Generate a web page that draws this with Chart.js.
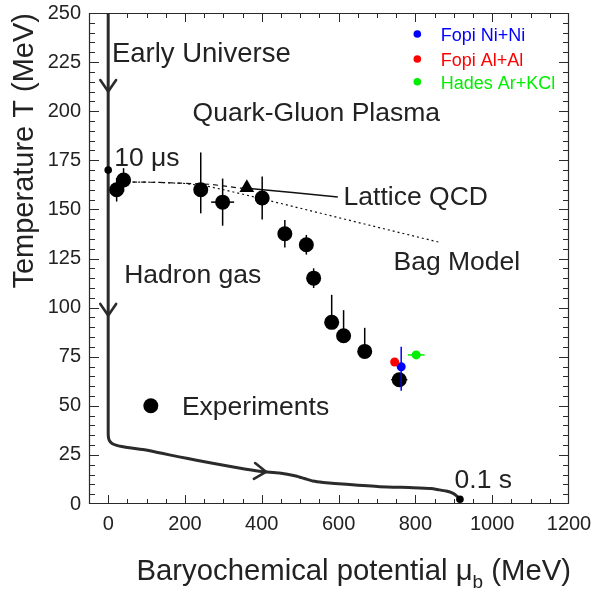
<!DOCTYPE html>
<html>
<head>
<meta charset="utf-8">
<script src="https://cdn.jsdelivr.net/npm/chart.js@4/dist/chart.umd.min.js"></script>
<style>
  html, body { margin: 0; padding: 0; background: #fff; }
  #wrap { width: 593px; height: 591px; }
</style>
</head>
<body>
<div id="wrap"><canvas id="c" width="593" height="591"></canvas></div>
<script>
// Axis tick labels
const xTickValues = [0, 200, 400, 600, 800, 1000, 1200];
const yTickValues = [0, 25, 50, 75, 100, 125, 150, 175, 200, 225, 250];

// Chemical freeze-out points (mu_B, T) with errors in MeV
const expMu    = [22, 40, 241, 298, 401, 460, 516, 535, 582, 613, 668, 758];
const expT     = [160, 165, 160, 153.7, 155.8, 137.6, 132, 115, 92.5, 85.7, 77.7, 63.3];
const expErrLo = [6, 6, 12, 12, 11, 7, 5, 5, 3, 3, 3, 0];
const expErrHi = [6, 6, 19, 12, 11, 7, 5, 5, 14, 13, 12, 0];
const expErrMu = [0, 0, 0, 30, 0, 0, 0, 0, 0, 0, 0, 21];

// Lattice critical point
const lqcdPointMu = [361];
const lqcdPointT  = [161];

// Heavy-ion systems at SIS energies
const sisLabels = ['Fopi Ni+Ni', 'Fopi Al+Al', 'Hades Ar+KCl'];
const sisColors = ['#0000ff', '#ff0000', '#00ee00'];
const sisMu     = [763, 746, 802];
const sisT      = [69.9, 72.3, 75.9];
const sisErrLo  = [12.2, 0, 0];
const sisErrHi  = [10.2, 0, 0];
const sisErrMu  = [0, 0, 22];

// Phase boundaries
const latticeMu    = [361, 480, 598];
const latticeT     = [160.8, 158.6, 156.3];
const latticeExtMu = [39, 120, 200, 263, 300, 341, 361];
const latticeExtT  = [164, 163.8, 163.3, 162.8, 162, 160.8, 160.8];
const bagMu = [39, 120, 200, 263, 300, 341, 366, 450, 550, 650, 750, 862];
const bagT  = [164, 163.8, 163.2, 161.6, 160, 158.2, 157, 153, 148.2, 143.4, 138.6, 133.3];

// Cosmological trajectory of the early universe
const trajMu = [0, 0, 1, 4, 10, 20, 35, 60, 98, 140, 185, 230, 272, 315, 359, 400, 446, 489, 511, 533, 560, 620, 707, 794, 840, 863, 880, 894, 903, 910, 916];
const trajT  = [250, 36, 33.5, 32, 30.8, 30, 29.3, 28.5, 27.5, 25.8, 24, 22.3, 20.7, 19.2, 17.7, 16.5, 15.8, 14.3, 13, 11.7, 11, 10, 8.8, 8.3, 7.9, 7.2, 6.6, 5.8, 4.8, 3.6, 2.4];
const trajStartMu = [0];   // 10 microseconds
const trajStartT  = [170];
const trajEndMu   = [916]; // 0.1 s
const trajEndT    = [2.4];
const arrowMu = [0, 0, 411];
const arrowT  = [210, 96, 16.4];

// Text annotations (left edge, baseline) in data units
const annText = ['Early Universe', 'Quark-Gluon Plasma', '10 \u03bcs', 'Lattice QCD', 'Bag Model', 'Hadron gas', 'Experiments', '0.1 s'];
const annMu   = [9.6, 219.8, 15.6, 613, 743, 41.7, 192, 902];
const annT    = [225.2, 195.2, 172.1, 152.3, 119, 112.4, 45.3, 8];
const annSize = [27.5, 26.5, 26.5, 26.5, 26.5, 26.5, 26.5, 26.5];

// Key sample for the experiments marker
const keyMu = [111];
const keyT  = [50];

// Key rows for the SIS systems
const sisKeyMu     = 805;
const sisKeyTextMu = 866;
const sisKeyT      = [239.3, 226.6, 215];

const FONT = "'Liberation Sans', Arial, Helvetica, sans-serif";
const INK = '#222';

const pts = (xs, ys) => xs.map((x, i) => ({ x: x, y: ys[i] }));

// Error bars, arrows, frame, ticks and labels drawn with the chart's own scales
const decorations = {
  id: 'decorations',
  beforeDatasetDraw(chart, args) {
    const ds = chart.data.datasets[args.index];
    if (!ds.errLo) return;
    const xs = chart.scales.x, ys = chart.scales.y, ctx = chart.ctx;
    ctx.save();
    ctx.setLineDash([]);
    ds.data.forEach((p, i) => {
      const col = Array.isArray(ds.barColor) ? ds.barColor[i] : ds.barColor;
      ctx.strokeStyle = col;
      ctx.lineWidth = 1.5;
      const px = xs.getPixelForValue(p.x), py = ys.getPixelForValue(p.y);
      if (ds.errLo[i] || ds.errHi[i]) {
        ctx.beginPath();
        ctx.moveTo(px, ys.getPixelForValue(p.y - ds.errLo[i]));
        ctx.lineTo(px, ys.getPixelForValue(p.y + ds.errHi[i]));
        ctx.stroke();
      }
      if (ds.errMu[i]) {
        ctx.beginPath();
        ctx.moveTo(xs.getPixelForValue(p.x - ds.errMu[i]), py);
        ctx.lineTo(xs.getPixelForValue(p.x + ds.errMu[i]), py);
        ctx.stroke();
      }
    });
    ctx.restore();
  },
  afterDraw(chart) {
    const xs = chart.scales.x, ys = chart.scales.y, ctx = chart.ctx;
    const a = chart.chartArea;
    ctx.save();
    ctx.setLineDash([]);

    // arrow heads along the trajectory
    const tp = trajMu.map((m, i) => [xs.getPixelForValue(m), ys.getPixelForValue(trajT[i])]);
    ctx.strokeStyle = '#2b2b2b';
    ctx.lineWidth = 2.6;
    ctx.lineCap = 'round';
    ctx.lineJoin = 'round';
    arrowMu.forEach((m, k) => {
      const px = xs.getPixelForValue(m), py = ys.getPixelForValue(arrowT[k]);
      let best = 1e9, dir = [0, 1];
      for (let i = 0; i < tp.length - 1; i++) {
        const [x1, y1] = tp[i], [x2, y2] = tp[i + 1];
        const dx = x2 - x1, dy = y2 - y1, L2 = dx * dx + dy * dy;
        if (!L2) continue;
        let t = ((px - x1) * dx + (py - y1) * dy) / L2;
        t = Math.max(0, Math.min(1, t));
        const d = Math.hypot(x1 + t * dx - px, y1 + t * dy - py);
        if (d < best) { best = d; const L = Math.sqrt(L2); dir = [dx / L, dy / L]; }
      }
      const len = 14, ang = 0.6;
      const bx = -dir[0], by = -dir[1];
      ctx.beginPath();
      ctx.moveTo(px + len * (bx * Math.cos(ang) - by * Math.sin(ang)), py + len * (bx * Math.sin(ang) + by * Math.cos(ang)));
      ctx.lineTo(px, py);
      ctx.lineTo(px + len * (bx * Math.cos(-ang) - by * Math.sin(-ang)), py + len * (bx * Math.sin(-ang) + by * Math.cos(-ang)));
      ctx.stroke();
    });

    // frame and inward ticks
    ctx.strokeStyle = '#2a2a2a';
    ctx.lineWidth = 1.2;
    ctx.lineCap = 'butt';
    ctx.lineJoin = 'miter';
    ctx.beginPath();
    ctx.rect(a.left + 0.5, a.top + 0.5, a.right - a.left - 1, a.bottom - a.top - 1);
    ctx.stroke();
    ctx.lineWidth = 1;
    ctx.beginPath();
    for (let v = xs.min; v <= xs.max; v += 50) {
      if (v <= xs.min || v >= xs.max) continue;
      const x = Math.round(xs.getPixelForValue(v)) + 0.5;
      const L = v % 200 === 0 ? 9 : 5;
      ctx.moveTo(x, a.bottom); ctx.lineTo(x, a.bottom - L);
      ctx.moveTo(x, a.top); ctx.lineTo(x, a.top + L);
    }
    for (let v = ys.min + 5; v < ys.max; v += 5) {
      const y = Math.round(ys.getPixelForValue(v)) + 0.5;
      const L = v % 25 === 0 ? 10 : 6;
      ctx.moveTo(a.left, y); ctx.lineTo(a.left + L, y);
      ctx.moveTo(a.right, y); ctx.lineTo(a.right - L, y);
    }
    ctx.stroke();

    // annotations
    ctx.fillStyle = INK;
    ctx.textAlign = 'left';
    ctx.textBaseline = 'alphabetic';
    annText.forEach((t, i) => {
      ctx.font = annSize[i] + 'px ' + FONT;
      ctx.fillText(t, xs.getPixelForValue(annMu[i]), ys.getPixelForValue(annT[i]));
    });

    // key for SIS systems
    ctx.font = '18px ' + FONT;
    sisLabels.forEach((lab, i) => {
      const y = ys.getPixelForValue(sisKeyT[i]);
      ctx.fillStyle = sisColors[i];
      ctx.beginPath();
      ctx.arc(xs.getPixelForValue(sisKeyMu), y, 3.8, 0, Math.PI * 2);
      ctx.fill();
      ctx.fillText(lab, xs.getPixelForValue(sisKeyTextMu), y + 7);
    });

    // x-axis title with subscript
    const p1 = 'Baryochemical potential \u03bc', sub = 'b', p3 = ' (MeV)';
    ctx.fillStyle = INK;
    ctx.font = '29.3px ' + FONT;
    const w1 = ctx.measureText(p1).width, w3 = ctx.measureText(p3).width;
    ctx.font = '19px ' + FONT;
    const ws = ctx.measureText(sub).width;
    const base = 580;
    const x0 = a.right + 2 - (w1 + ws + w3);
    ctx.font = '29.3px ' + FONT;
    ctx.fillText(p1, x0, base);
    ctx.font = '19px ' + FONT;
    ctx.fillText(sub, x0 + w1, base + 8);
    ctx.font = '29.3px ' + FONT;
    ctx.fillText(p3, x0 + w1 + ws, base);

    ctx.restore();
  }
};

const ctx = document.getElementById('c').getContext('2d');
new Chart(ctx, {
  type: 'scatter',
  data: {
    datasets: [
      { // SIS systems
        data: pts(sisMu, sisT), order: 0,
        pointRadius: 4.5, pointBackgroundColor: sisColors, pointBorderWidth: 0,
        errLo: sisErrLo, errHi: sisErrHi, errMu: sisErrMu, barColor: sisColors
      },
      { // lattice critical point
        data: pts(lqcdPointMu, lqcdPointT), order: 1,
        pointStyle: 'triangle', pointRadius: 8.5, pointBackgroundColor: '#000', pointBorderWidth: 0
      },
      { // freeze-out points
        data: pts(expMu, expT), order: 2,
        pointRadius: 7.5, pointBackgroundColor: '#000', pointBorderWidth: 0,
        errLo: expErrLo, errHi: expErrHi, errMu: expErrMu, barColor: '#000'
      },
      { // experiments key marker
        data: pts(keyMu, keyT), order: 2,
        pointRadius: 7.5, pointBackgroundColor: '#000', pointBorderWidth: 0
      },
      { // trajectory start/end markers
        data: pts(trajStartMu, trajStartT).concat(pts(trajEndMu, trajEndT)), order: 3,
        pointRadius: 3.8, pointBackgroundColor: '#000', pointBorderWidth: 0
      },
      { // lattice QCD
        data: pts(latticeMu, latticeT), order: 4, showLine: true,
        borderColor: '#111', borderWidth: 1.4, pointRadius: 0
      },
      { // lattice QCD extrapolation
        data: pts(latticeExtMu, latticeExtT), order: 4, showLine: true,
        borderColor: '#111', borderWidth: 1.2, borderDash: [5, 4], pointRadius: 0
      },
      { // bag model
        data: pts(bagMu, bagT), order: 4, showLine: true,
        borderColor: '#111', borderWidth: 1.2, borderDash: [2, 3], pointRadius: 0
      },
      { // early universe trajectory
        data: pts(trajMu, trajT), order: 5, showLine: true,
        borderColor: '#2b2b2b', borderWidth: 3, pointRadius: 0, tension: 0.2,
        borderCapStyle: 'round', borderJoinStyle: 'round'
      }
    ]
  },
  options: {
    responsive: false,
    animation: false,
    devicePixelRatio: 1,
    events: [],
    layout: { padding: { left: 0, top: 13, right: 24, bottom: 0 } },
    plugins: { legend: { display: false }, tooltip: { enabled: false } },
    scales: {
      x: {
        type: 'linear', min: -50, max: 1200,
        grid: { display: false, drawTicks: false },
        border: { display: false },
        afterBuildTicks: s => { s.ticks = xTickValues.map(v => ({ value: v })); },
        afterFit: s => { s.height = 87; s.paddingLeft = 0; s.paddingRight = 0; },
        ticks: {
          font: { family: FONT, size: 20 }, color: INK, padding: 8,
          maxRotation: 0, autoSkip: false, callback: v => String(v)
        }
      },
      y: {
        type: 'linear', min: 0, max: 250,
        grid: { display: false, drawTicks: false },
        border: { display: false },
        afterBuildTicks: s => { s.ticks = yTickValues.map(v => ({ value: v })); },
        afterFit: s => { s.width = 89; s.paddingTop = 0; s.paddingBottom = 0; },
        ticks: {
          font: { family: FONT, size: 20 }, color: INK, padding: 8,
          autoSkip: false, callback: v => String(v)
        },
        title: {
          display: true, text: 'Temperature T (MeV)', align: 'end',
          font: { family: FONT, size: 29 }, color: INK,
          padding: { top: 8, bottom: 0 }
        }
      }
    }
  },
  plugins: [decorations]
});
</script>
</body>
</html>
